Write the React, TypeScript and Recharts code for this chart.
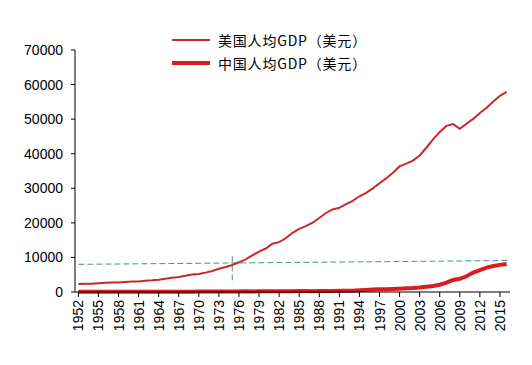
import { Legend, Line, LineChart, ReferenceLine, XAxis, YAxis } from 'recharts';

const years = [
  1952, 1953, 1954, 1955, 1956, 1957, 1958, 1959, 1960, 1961, 1962, 1963, 1964,
  1965, 1966, 1967, 1968, 1969, 1970, 1971, 1972, 1973, 1974, 1975, 1976, 1977,
  1978, 1979, 1980, 1981, 1982, 1983, 1984, 1985, 1986, 1987, 1988, 1989, 1990,
  1991, 1992, 1993, 1994, 1995, 1996, 1997, 1998, 1999, 2000, 2001, 2002, 2003,
  2004, 2005, 2006, 2007, 2008, 2009, 2010, 2011, 2012, 2013, 2014, 2015, 2016,
];

// 美国人均GDP（美元）
const usGdp = [
  2300, 2400, 2400, 2550, 2650, 2750, 2750, 2900, 3007, 3067, 3244, 3375, 3574,
  3828, 4146, 4336, 4696, 5032, 5234, 5609, 6094, 6726, 7226, 7801, 8592, 9453,
  10565, 11674, 12575, 13976, 14434, 15544, 17121, 18237, 19071, 20039, 21417, 22857, 23889,
  24342, 25419, 26387, 27695, 28691, 29968, 31459, 32854, 34515, 36330, 37134, 37998, 39490,
  41725, 44123, 46302, 48050, 48570, 47195, 48651, 50066, 51784, 53291, 55124, 56763, 57867,
];

// 中国人均GDP（美元）
const cnGdp = [
  54, 65, 68, 70, 78, 80, 86, 90, 90, 76, 71, 74, 85,
  98, 104, 97, 91, 100, 113, 119, 132, 157, 160, 178, 165, 185,
  156, 184, 195, 197, 203, 225, 251, 294, 282, 252, 283, 310, 318,
  333, 366, 377, 473, 610, 709, 782, 829, 873, 959, 1053, 1149, 1289,
  1509, 1753, 2099, 2694, 3468, 3832, 4550, 5618, 6317, 7051, 7500, 7850, 8100,
];

const xTicks = [
  1952, 1955, 1958, 1961, 1964, 1967, 1970, 1973, 1976, 1979, 1982, 1985, 1988,
  1991, 1994, 1997, 2000, 2003, 2006, 2009, 2012, 2015,
];
const yTicks = [0, 10000, 20000, 30000, 40000, 50000, 60000, 70000];

// dashed guide lines: [year, value] end points
const trendLine = [
  [1952, 8000],
  [2016.5, 9100],
];
const markerLine = [
  [1975, 10300],
  [1975, 2400],
];

const rows = years.map((year, i) => ({ year, us: usGdp[i], cn: cnGdp[i] }));

const US_RED = '#c8282a';
const CN_RED = '#d81c1f';
const GUIDE_GREEN = '#3f9a70';
const tickFont = { fontFamily: 'Liberation Sans, Arial, sans-serif', fontSize: 14, fill: '#000' };

function YearTick({ x, y, payload }: { x: number; y: number; payload: { value: number } }) {
  return (
    <text
      x={x}
      y={y}
      dy={5}
      transform={`rotate(-90 ${x} ${y})`}
      textAnchor="end"
      {...tickFont}
    >
      {payload.value}
    </text>
  );
}

function GdpLegend() {
  const items = [
    { label: '美国人均GDP（美元）', width: 2, color: US_RED },
    { label: '中国人均GDP（美元）', width: 4, color: CN_RED },
  ];
  return (
    <div style={{ fontFamily: '"Noto Sans CJK SC", sans-serif', fontSize: 14, color: '#000' }}>
      {items.map((it) => (
        <div key={it.label} style={{ display: 'flex', alignItems: 'center', height: 23 }}>
          <svg width={44} height={10} style={{ marginRight: 4 }}>
            <line x1={2} y1={5} x2={40} y2={5} stroke={it.color} strokeWidth={it.width} />
          </svg>
          <span style={{ letterSpacing: 0.8 }}>{it.label}</span>
        </div>
      ))}
    </div>
  );
}

export default function App() {
  return (
    <div style={{ position: 'absolute', left: 0, top: 0, background: '#fff' }}>
      <LineChart
        width={532}
        height={365}
        data={rows}
        margin={{ top: 50, right: 22, bottom: 28, left: 15 }}
      >
        <XAxis
          dataKey="year"
          type="number"
          domain={[1951.5, 2016.5]}
          ticks={xTicks}
          interval={0}
          height={45}
          tick={YearTick}
          tickSize={5}
          tickMargin={3}
          stroke="#000"
          allowDataOverflow
        />
        <YAxis
          domain={[0, 70000]}
          ticks={yTicks}
          width={60}
          tick={tickFont}
          tickSize={4}
          tickMargin={8}
          stroke="#000"
          interval={0}
        />
        {/* middle/center keeps the legend from shrinking the plot area */}
        <Legend
          layout="horizontal"
          verticalAlign="middle"
          align="center"
          content={<GdpLegend />}
          wrapperStyle={{ top: 28, left: 170, width: 230 }}
        />
        <ReferenceLine
          segment={trendLine.map(([x, y]) => ({ x, y }))}
          stroke={GUIDE_GREEN}
          strokeWidth={1}
          strokeDasharray="6 3"
          ifOverflow="visible"
        />
        <ReferenceLine
          segment={markerLine.map(([x, y]) => ({ x, y }))}
          stroke={GUIDE_GREEN}
          strokeWidth={1}
          strokeDasharray="6 3"
          ifOverflow="visible"
        />
        <Line
          dataKey="us"
          name="美国人均GDP（美元）"
          stroke={US_RED}
          strokeWidth={2}
          dot={false}
          isAnimationActive={false}
        />
        <Line
          dataKey="cn"
          name="中国人均GDP（美元）"
          stroke={CN_RED}
          strokeWidth={4}
          dot={false}
          isAnimationActive={false}
        />
      </LineChart>
    </div>
  );
}
